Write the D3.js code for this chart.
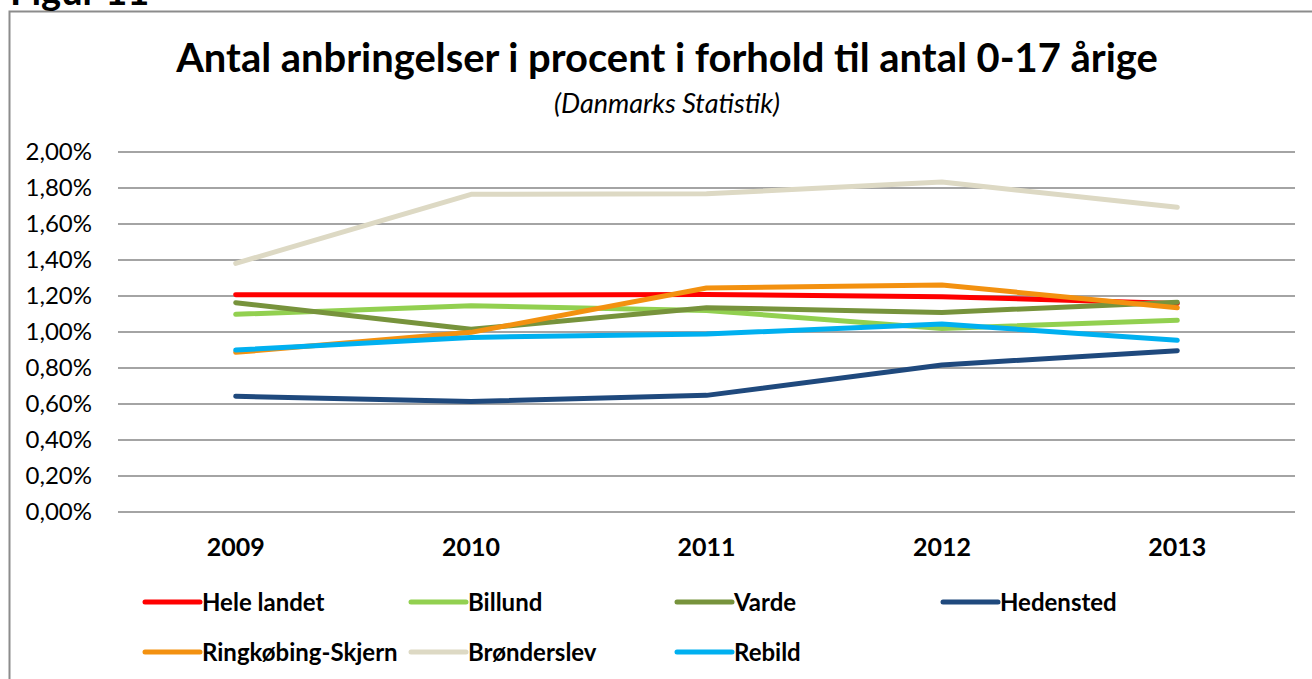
<!DOCTYPE html>
<html>
<head>
<meta charset="utf-8">
<script src="https://cdn.jsdelivr.net/npm/d3@7"></script>
<style>
  body { margin: 0; background: #fff; }
  svg { display: block; font-family: Lato, "Open Sans", sans-serif; }
</style>
</head>
<body>
<svg id="chart" width="1312" height="679"></svg>
<script>
// data (percent of 0-17 year olds)
const years = ["2009", "2010", "2011", "2012", "2013"];
const seriesNames = ["Hele landet", "Billund", "Varde", "Hedensted", "Ringkøbing-Skjern", "Brønderslev", "Rebild"];
const heleLandet   = [1.207, 1.205, 1.209, 1.196, 1.159];
const billund      = [1.098, 1.146, 1.120, 1.020, 1.065];
const varde        = [1.163, 1.015, 1.135, 1.109, 1.165];
const hedensted    = [0.643, 0.614, 0.648, 0.817, 0.896];
const ringkobing   = [0.887, 0.998, 1.244, 1.261, 1.135];
const bronderslev  = [1.381, 1.765, 1.768, 1.833, 1.693];
const rebild       = [0.900, 0.970, 0.989, 1.044, 0.954];
const yTicks = [0, 0.2, 0.4, 0.6, 0.8, 1.0, 1.2, 1.4, 1.6, 1.8, 2.0];

const colors = ["#ff0000", "#92d050", "#77933c", "#1f497d", "#f39110", "#ddd9c4", "#00b0f0"];
const values = [heleLandet, billund, varde, hedensted, ringkobing, bronderslev, rebild];
const series = seriesNames.map((name, i) => ({ name, color: colors[i], values: values[i] }));

const svg = d3.select("#chart");

// frame of the figure (only top and left show in the crop)
svg.append("rect")
  .attr("x", 9.5).attr("y", 11.5)
  .attr("width", 1400).attr("height", 800)
  .attr("fill", "none")
  .attr("stroke", "#8c8c8c")
  .attr("stroke-width", 2);

// caption, cut by the top edge as in the original
svg.append("text")
  .attr("x", 10).attr("y", 5)
  .attr("font-size", 38).attr("font-weight", "bold")
  .text("Figur 11");

const title = svg.append("text")
  .attr("x", 667).attr("y", 72)
  .attr("text-anchor", "middle")
  .attr("font-size", 32).attr("font-weight", "bold")
  .text("Antal anbringelser i procent i forhold til antal 0-17 årige");
// fit title width to the original
const tw = title.node().getComputedTextLength();
title.attr("font-size", 32 * 982 / tw);

svg.append("text")
  .attr("x", 667).attr("y", 113)
  .attr("text-anchor", "middle")
  .attr("font-size", 27).attr("font-style", "italic")
  .text("(Danmarks Statistik)");

const x = d3.scaleBand().domain(years).range([118, 1295]);
const y = d3.scaleLinear().domain([0, 2]).range([512, 152]);

// gridlines
svg.append("g")
  .selectAll("line")
  .data(yTicks)
  .join("line")
  .attr("x1", 118).attr("x2", 1295)
  .attr("y1", d => y(d)).attr("y2", d => y(d))
  .attr("stroke", "#868686")
  .attr("stroke-width", 1.5);

const fmt = d => d.toFixed(2).replace(".", ",") + "%";

const yAxis = svg.append("g")
  .attr("transform", "translate(118,0)")
  .call(d3.axisLeft(y).tickValues(yTicks).tickFormat(fmt).tickSize(0).tickPadding(26));
yAxis.select(".domain").remove();
yAxis.selectAll("text")
  .attr("font-family", "Lato, sans-serif")
  .attr("font-size", 24)
  .attr("fill", "#000");

const xAxis = svg.append("g")
  .attr("transform", "translate(0,512)")
  .call(d3.axisBottom(x).tickSize(0).tickPadding(26));
xAxis.select(".domain").remove();
xAxis.selectAll("text")
  .attr("font-family", "Lato, sans-serif")
  .attr("font-size", 25)
  .attr("font-weight", "bold")
  .attr("fill", "#000");

const line = d3.line()
  .x((d, i) => x(years[i]) + x.bandwidth() / 2)
  .y(d => y(d));

svg.append("g")
  .selectAll("path")
  .data(series)
  .join("path")
  .attr("d", d => line(d.values))
  .attr("fill", "none")
  .attr("stroke", d => d.color)
  .attr("stroke-width", 5)
  .attr("stroke-linecap", "round")
  .attr("stroke-linejoin", "round");

// legend, 4 per row
const legend = svg.append("g")
  .selectAll("g")
  .data(series)
  .join("g")
  .attr("transform", (d, i) => `translate(${145 + (i % 4) * 266},${602 + Math.floor(i / 4) * 50})`);

legend.append("line")
  .attr("x1", 0).attr("x2", 55)
  .attr("stroke", d => d.color)
  .attr("stroke-width", 5)
  .attr("stroke-linecap", "round");

legend.append("text")
  .attr("x", 57).attr("dy", "0.36em")
  .attr("font-size", 24).attr("font-weight", "bold")
  .text(d => d.name);
</script>
</body>
</html>
